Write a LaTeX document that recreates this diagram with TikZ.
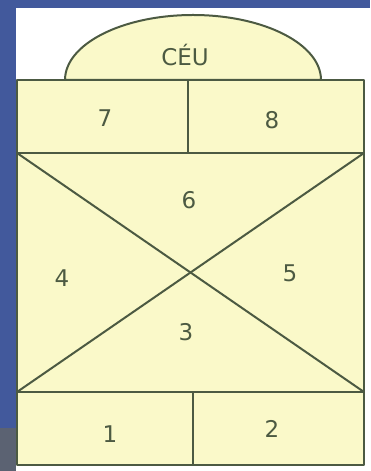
\documentclass[tikz,border=0pt]{standalone}
\usepackage{fontspec}
\setmainfont{DejaVu Sans}
\usetikzlibrary{positioning}
\definecolor{bgblue}{HTML}{42599C}
\definecolor{slate}{HTML}{5B6272}
\definecolor{chalk}{HTML}{FAF9C9}
\definecolor{pencil}{HTML}{4C5A42}
\begin{document}
\begin{tikzpicture}[x=1pt, y=1pt,
  line/.style={draw=pencil, line width=2pt, line join=round},
  num/.style={text=pencil, font=\fontsize{23}{26}\selectfont}]
  \useasboundingbox (0,0) rectangle (370,471);
  % background
  \fill[bgblue] (0,0) rectangle (370,471);
  \fill[slate] (0,0) rectangle (16,43);
  \fill[white] (16,0) rectangle (370,463);
  % corners of the board
  \coordinate (a) at (17,391); \coordinate (b) at (364,391);
  \coordinate (c) at (17,318); \coordinate (d) at (364,318);
  \coordinate (e) at (17,79);  \coordinate (f) at (364,79);
  \coordinate (g) at (17,6);   \coordinate (h) at (364,6);
  % sky
  \filldraw[line, fill=chalk] (65,391) arc[start angle=180, end angle=0, x radius=128, y radius=65] -- cycle;
  \filldraw[line, fill=chalk] (a) rectangle (h);
  \draw[line] (a) -- (b);
  \draw[line] (c) -- (d);
  \draw[line] (e) -- (f);
  \draw[line] (188,391) -- (188,318);
  \draw[line] (193,79) -- (193,6);
  \draw[line] (c) -- (f);
  \draw[line] (d) -- (e);
  % labels
  \node[num] (sky) at (185,416) {CÉU};
  \node[num] (n7) at (105,353) {7};
  \node[num] (n8) at (272,351) {8};
  \node[num] (n6) at (189,271) {6};
  \node[num] (n4) at (62,193) {4};
  \node[num] (n5) at (290,198) {5};
  \node[num] (n3) at (186,139) {3};
  \node[num] (n1) at (110,37) {1};
  \node[num] (n2) at (272,42) {2};
\end{tikzpicture}
\end{document}
